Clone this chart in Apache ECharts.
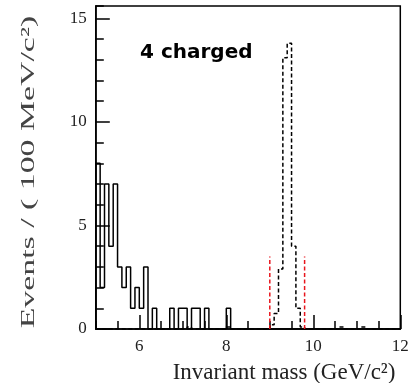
<!DOCTYPE html>
<html><head><meta charset="utf-8">
<script src="https://cdn.jsdelivr.net/npm/echarts@6/dist/echarts.min.js"></script>
<style>html,body{margin:0;padding:0;background:#fff}#c{width:413px;height:383px}</style>
</head><body><div id="c"></div>
<script>
// histogram binning (GeV/c^2)
const binStart = 5.0;
const binWidth = 0.1;
// data counts per 100 MeV bin, 5.0 .. 12.0
const dataCounts = [
  8,2,7,4,7,3,2,3,1,2,
  1,3,0,1,0,0,0,1,0,1,
  1,0,1,1,0,1,0,0,0,0,
  1,0,0,0,0,0,0,0,0,0,
  0,0,0,0,0,0,0,0,0,0,
  0,0,0,0,0,0,0,0,0,0,
  0,0,0,0,0,0,0,0,0,0
];
// MC signal shape (dashed), 5.0 .. 12.0
const mcCounts = [
  0,0,0,0,0,0,0,0,0,0,
  0,0,0,0,0,0,0,0,0,0,
  0,0.1,0,0,0,0,0,0,0,0,
  0.1,0,0,0,0,0,0,0,0,0,
  0.2,0.75,2.9,13.1,13.8,4.0,1.0,0.1,0,0,
  0,0,0,0,0,0,0.1,0,0,0,
  0,0.1,0,0,0,0,0,0,0,0
];
// signal window cuts
const cutLow = 9.0;
const cutHigh = 9.8;
const cutHeight = 3.5;
// axis ticks
const xMajorTicks = [6, 8, 10, 12];
const yMajorTicks = [0, 5, 10, 15];
const xRange = [5, 12];
const yRange = [0, 15.6];

function stepData(vals) {
  const pts = [[binStart, 0]];
  vals.forEach((v, i) => pts.push([+(binStart + i * binWidth).toFixed(3), v]));
  pts.push([+(binStart + vals.length * binWidth).toFixed(3), 0]);
  return pts;
}

const chart = echarts.init(document.getElementById('c'), null, {renderer: 'canvas'});
const labelFont = {fontFamily: 'Liberation Serif', fontSize: 17, color: '#222'};
chart.setOption({
  animation: false,
  backgroundColor: '#fff',
  title: {
    text: '4 charged', left: 140, top: 43, padding: 0,
    textStyle: {fontFamily: 'DejaVu Sans', fontWeight: 'bold', fontSize: 20, color: '#000'}
  },
  grid: {left: 95.8, right: 12.7, top: 6, bottom: 54, show: true, borderColor: '#000', borderWidth: 1.5,
         containLabel: false, outerBoundsMode: 'none'},
  xAxis: [
    {type: 'value', min: xRange[0], max: xRange[1], position: 'bottom',
     axisLine: {show: true, lineStyle: {color: '#000', width: 1.5}},
     axisTick: {show: true, inside: true, length: 14, customValues: xMajorTicks, lineStyle: {color: '#000', width: 1.5}},
     axisLabel: Object.assign({show: true, margin: 9, customValues: xMajorTicks}, labelFont),
     splitLine: {show: false},
     name: 'Invariant mass (GeV/c²)', nameLocation: 'middle', nameGap: 32,
     nameTextStyle: {fontFamily: 'Liberation Serif', fontSize: 23, color: '#222', padding: [0, 0, 0, 72]}
    },
    {type: 'value', min: xRange[0], max: xRange[1], interval: 0.5, position: 'bottom',
     axisLine: {show: false},
     axisTick: {show: true, inside: true, length: 8, lineStyle: {color: '#000', width: 1.5}},
     axisLabel: {show: false}, splitLine: {show: false}}
  ],
  yAxis: [
    {type: 'value', min: yRange[0], max: yRange[1], position: 'left',
     axisLine: {show: true, lineStyle: {color: '#000', width: 1.5}},
     axisTick: {show: true, inside: true, length: 14, customValues: yMajorTicks, lineStyle: {color: '#000', width: 1.5}},
     axisLabel: Object.assign({show: true, margin: 9, customValues: yMajorTicks}, labelFont),
     splitLine: {show: false}},
    {type: 'value', min: yRange[0], max: yRange[1], interval: 1, position: 'left',
     axisLine: {show: false},
     axisTick: {show: true, inside: true, length: 8, lineStyle: {color: '#000', width: 1.5}},
     axisLabel: {show: false}, splitLine: {show: false}}
  ],
  graphic: [
    {type: 'text', x: 29, y: 172, rotation: Math.PI / 2, scaleX: 1.78, scaleY: 1,
     style: {text: 'Events / ( 100 MeV/c²)', font: '19px "Liberation Serif"', fill: '#444', align: 'center', verticalAlign: 'middle'}}
  ],
  series: [
    {type: 'line', name: 'MC', xAxisIndex: 0, yAxisIndex: 0, step: 'end', showSymbol: false, symbol: 'none',
     data: stepData(mcCounts), lineStyle: {color: '#000', width: 1.5, type: [4, 2.5]}, z: 3},
    {type: 'line', name: 'Data', xAxisIndex: 0, yAxisIndex: 0, step: 'end', showSymbol: false, symbol: 'none',
     data: stepData(dataCounts), lineStyle: {color: '#000', width: 1.5}, z: 4},
    {type: 'line', name: 'cutLow', xAxisIndex: 0, yAxisIndex: 0, showSymbol: false, symbol: 'none',
     data: [[cutLow, 0], [cutLow, cutHeight]], lineStyle: {color: '#e8141c', width: 1.5, type: [4, 2.5]}, z: 5},
    {type: 'line', name: 'cutHigh', xAxisIndex: 0, yAxisIndex: 0, showSymbol: false, symbol: 'none',
     data: [[cutHigh, 0], [cutHigh, cutHeight]], lineStyle: {color: '#e8141c', width: 1.5, type: [4, 2.5]}, z: 5}
  ]
});
</script>
</body></html>
